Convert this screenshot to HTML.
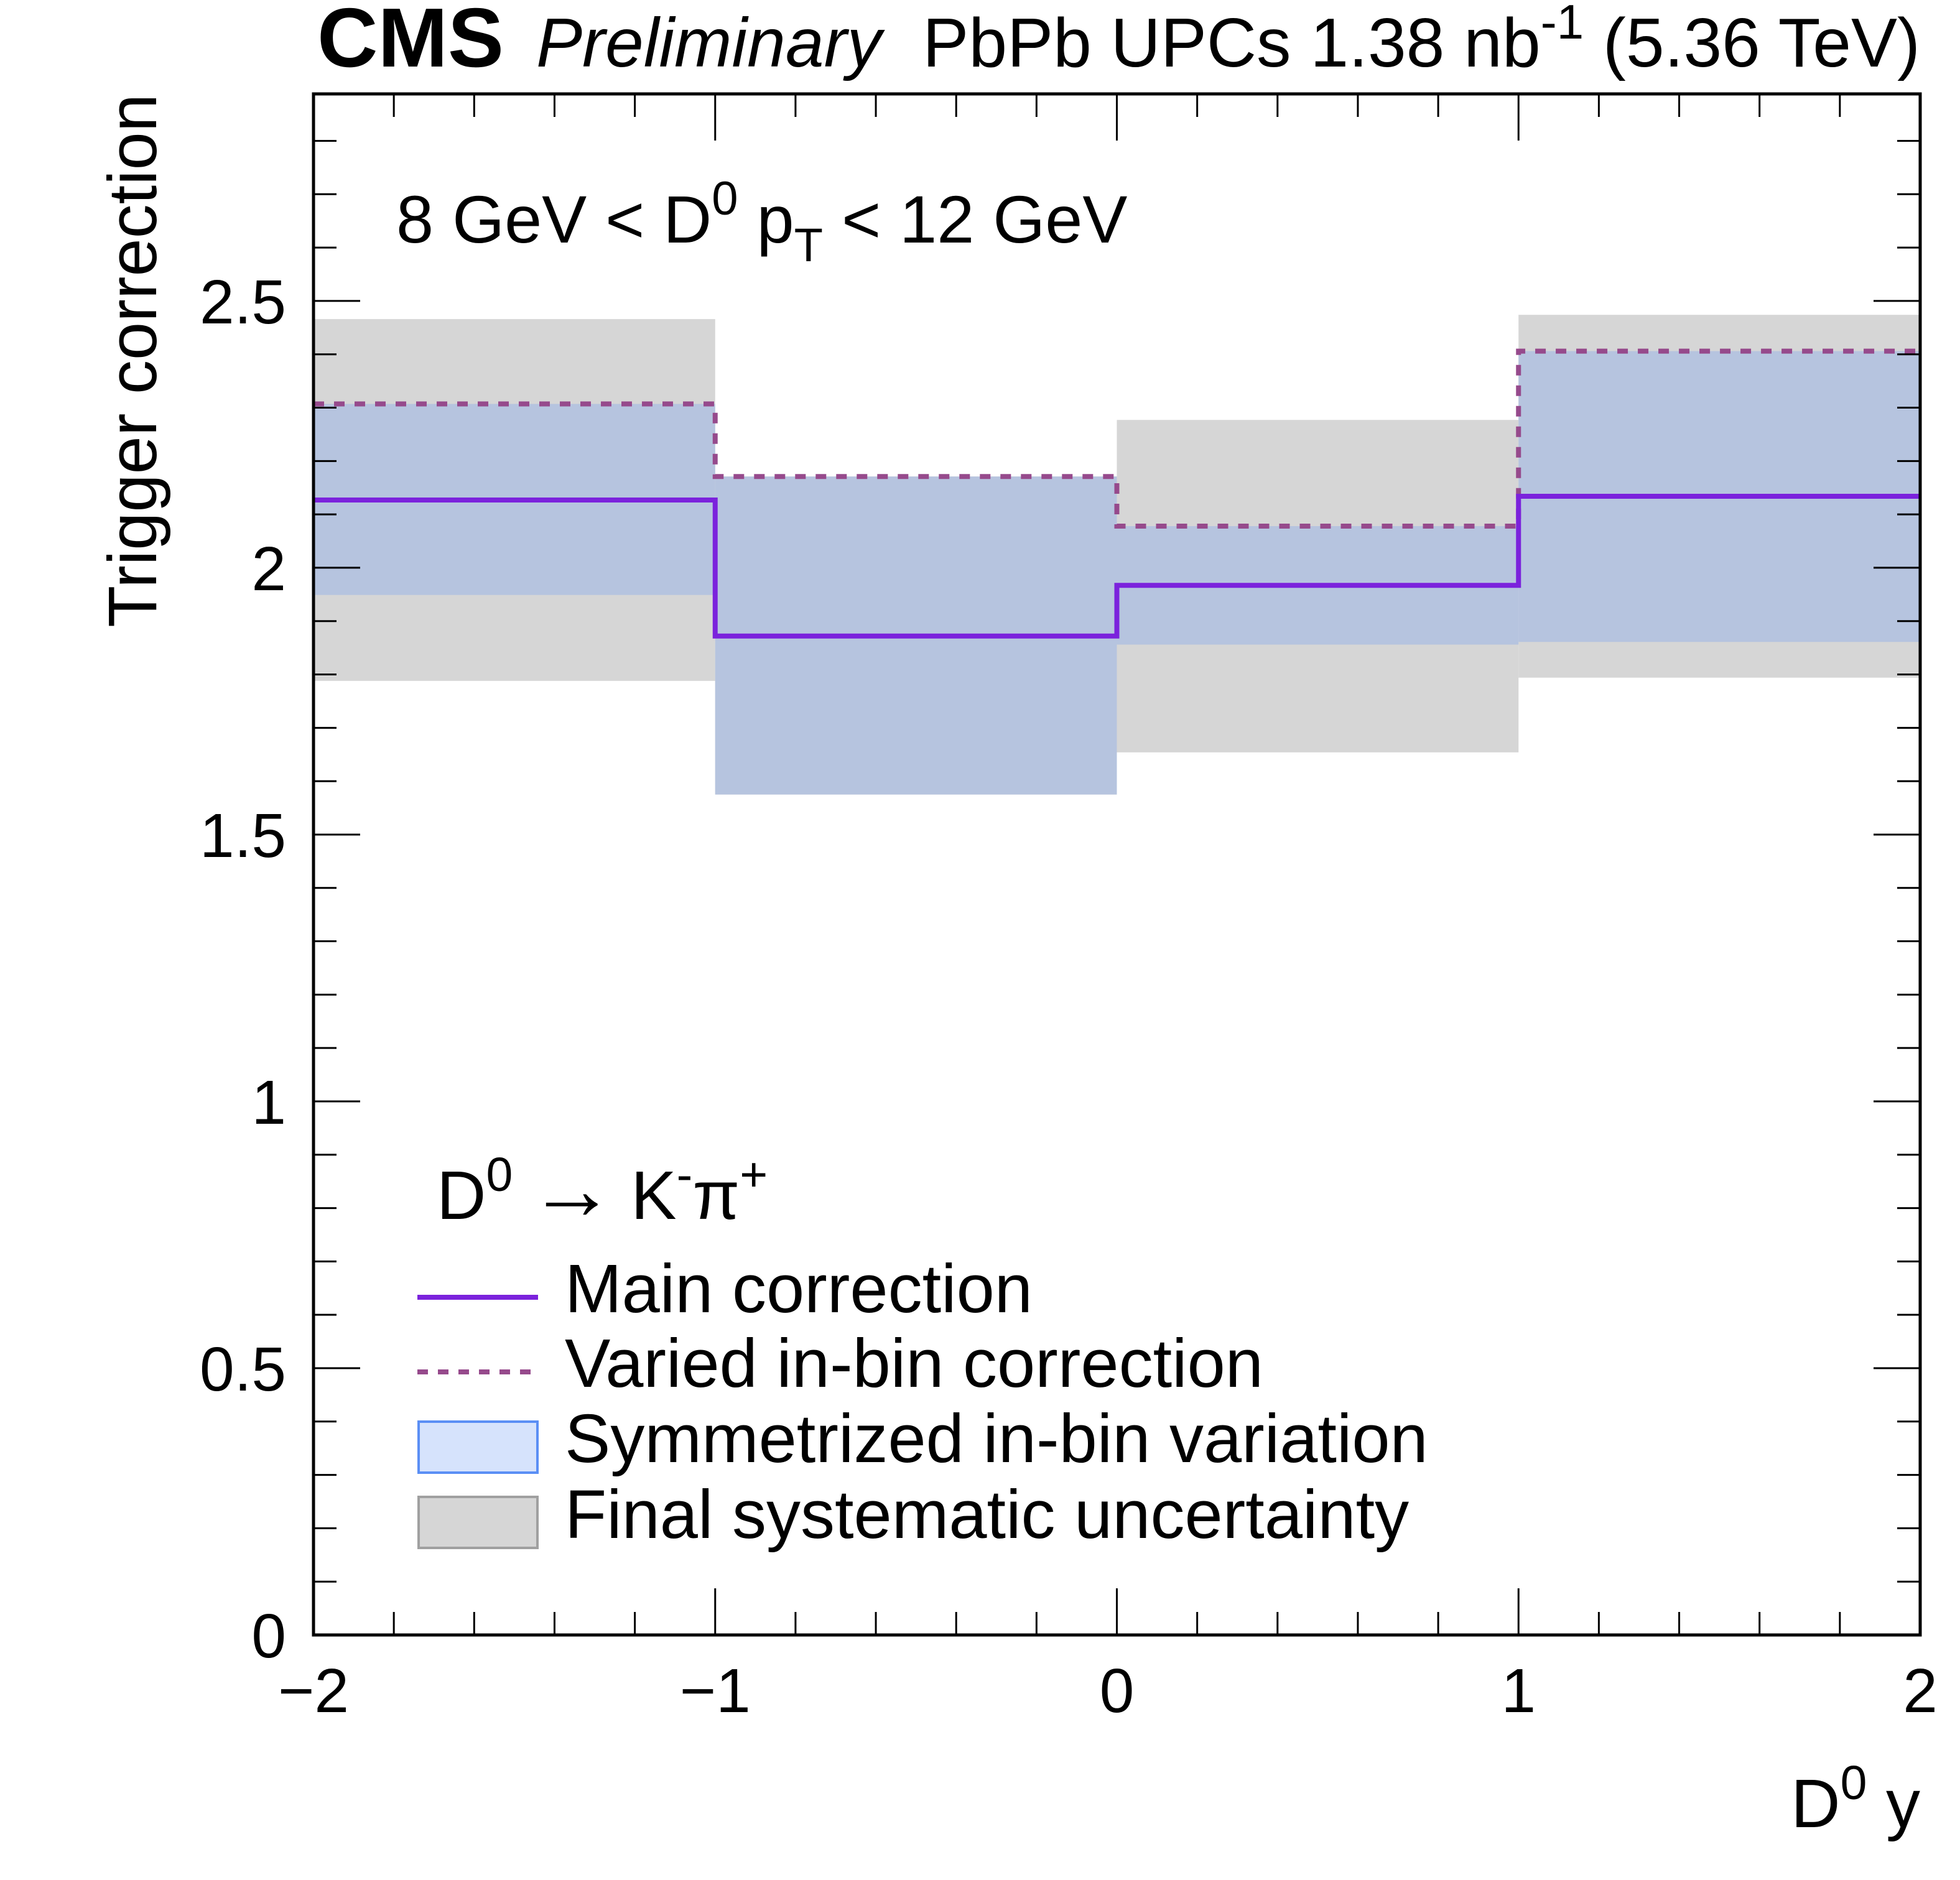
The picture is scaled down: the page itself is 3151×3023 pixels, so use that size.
<!DOCTYPE html>
<html><head><meta charset="utf-8"><style>
html,body{margin:0;padding:0;background:#fff;}
svg{display:block;font-family:"Liberation Sans",Arial,sans-serif;}
</style></head><body>
<svg id="chart" width="3151" height="3023" viewBox="0 0 3151 3023" xmlns="http://www.w3.org/2000/svg">
<g id="bands"></g>
<g id="lines"></g>
<g id="axes"></g>
<rect x="504" y="151" width="2583" height="2478" fill="none" stroke="#000" stroke-width="5"/>
<text x="510" y="107" font-size="135" font-weight="bold">CMS</text>
<text x="862" y="107" font-size="111" font-style="italic">Preliminary</text>
<text x="3087" y="107" font-size="111" text-anchor="end">PbPb UPCs 1.38 nb<tspan dy="-45" font-size="78">-1</tspan><tspan dy="45"> (5.36 TeV)</tspan></text>
<text x="637" y="390" font-size="108">8 GeV &lt; D<tspan dy="-45" font-size="76">0</tspan><tspan dy="45"> p</tspan><tspan dy="30" font-size="76">T</tspan><tspan dy="-30"> &lt; 12 GeV</tspan></text>
<text transform="translate(251,151) rotate(-90)" font-size="110" text-anchor="end">Trigger correction</text>
<text x="3087" y="2938" font-size="110" text-anchor="end">D<tspan dy="-45" font-size="77">0</tspan><tspan dy="45"> y</tspan></text>
<g>
<text x="702" y="1960" font-size="110">D<tspan dy="-45" font-size="77">0</tspan><tspan dy="45" dx="25" font-size="140">→</tspan><tspan dx="25">K</tspan><tspan dy="-45" font-size="77">-</tspan><tspan dy="45">π</tspan><tspan dy="-45" font-size="77">+</tspan></text>
<line x1="671" y1="2086" x2="865" y2="2086" stroke="#7b22dc" stroke-width="8"/>
<text x="908" y="2110" font-size="110">Main correction</text>
<line x1="671" y1="2206" x2="865" y2="2206" stroke="#964a8c" stroke-width="8" stroke-dasharray="17,16"/>
<text x="908" y="2230" font-size="110">Varied in-bin correction</text>
<rect x="673" y="2286" width="191" height="82" fill="#d6e3fc" stroke="#5b8ff5" stroke-width="4"/>
<text x="908" y="2351" font-size="110">Symmetrized in-bin variation</text>
<rect x="673" y="2407" width="191" height="82" fill="#d6d6d6" stroke="#a0a0a0" stroke-width="4"/>
<text x="908" y="2473" font-size="110">Final systematic uncertainty</text>
</g>
</svg>
<script>
const binEdges = [-2, -1, 0, 1, 2];
const mainValues = [2.127, 1.872, 1.967, 2.134];
const variedValues = [2.307, 2.171, 2.078, 2.406];
const symLow = [1.949, 1.575, 1.856, 1.861];
const symHigh = [2.307, 2.171, 2.078, 2.406];
const sysLow = [1.788, 1.575, 1.654, 1.794];
const sysHigh = [2.466, 2.171, 2.277, 2.474];
const yTickLabels = ["0", "0.5", "1", "1.5", "2", "2.5"];
const yTickValues = [0, 0.5, 1, 1.5, 2, 2.5];
const xTickLabels = ["\u22122", "\u22121", "0", "1", "2"];
const xTickValues = [-2, -1, 0, 1, 2];

const X0 = 504, X1 = 3087, Y0 = 2629, Y1 = 151;
const xMin = -2, xMax = 2, yMin = 0, yMax = 2.888;
const sx = v => X0 + (v - xMin) / (xMax - xMin) * (X1 - X0);
const sy = v => Y0 - (v - yMin) / (yMax - yMin) * (Y0 - Y1);
const NS = "http://www.w3.org/2000/svg";
function mk(tag, attrs, parent) {
  const e = document.createElementNS(NS, tag);
  for (const k in attrs) e.setAttribute(k, attrs[k]);
  parent.appendChild(e);
  return e;
}
const bands = document.getElementById('bands');
const lines = document.getElementById('lines');
const axes = document.getElementById('axes');

for (let i = 0; i < mainValues.length; i++) {
  const xa = sx(binEdges[i]), xb = sx(binEdges[i + 1]);
  const g = mk('rect', {x: xa, y: sy(sysHigh[i]), width: xb - xa, height: sy(sysLow[i]) - sy(sysHigh[i]), fill: '#d6d6d6'}, bands);
  
  
}
for (let i = 0; i < mainValues.length; i++) {
  const xa = sx(binEdges[i]), xb = sx(binEdges[i + 1]);
  const b = mk('rect', {x: xa, y: sy(symHigh[i]), width: xb - xa, height: sy(symLow[i]) - sy(symHigh[i]), fill: '#b6c4df'}, bands);
  
  
}
function stepPath(vals) {
  let d = '';
  for (let i = 0; i < vals.length; i++) {
    const xa = sx(binEdges[i]), xb = sx(binEdges[i + 1]), y = sy(vals[i]);
    d += (i === 0 ? 'M' : 'L') + xa + ',' + y + ' L' + xb + ',' + y + ' ';
  }
  return d;
}
const vp = mk('path', {d: stepPath(variedValues), fill: 'none', stroke: '#964a8c', 'stroke-width': 8, 'stroke-dasharray': '17,16'}, lines);


const mp = mk('path', {d: stepPath(mainValues), fill: 'none', stroke: '#7b22dc', 'stroke-width': 8}, lines);



for (let k = 0; k <= 28; k++) {
  const v = k * 0.1, y = sy(v), major = (k % 5 === 0), L = major ? 75 : 37;
  const t1 = mk('line', {x1: X0, y1: y, x2: X0 + L, y2: y, stroke: '#000', 'stroke-width': 3}, axes);
  
  
  const t2 = mk('line', {x1: X1, y1: y, x2: X1 - L, y2: y, stroke: '#000', 'stroke-width': 3}, axes);
  
  
}
yTickValues.forEach((v, i) => {
  const t = mk('text', {x: 460, y: sy(v) + 36, 'font-size': 100, 'text-anchor': 'end'}, axes);
  t.textContent = yTickLabels[i];
  
  
});
for (let k = 0; k <= 20; k++) {
  const v = -2 + k * 0.2, x = sx(v), major = (k % 5 === 0), L = major ? 75 : 37;
  const t1 = mk('line', {x1: x, y1: Y0, x2: x, y2: Y0 - L, stroke: '#000', 'stroke-width': 3}, axes);
  
  
  const t2 = mk('line', {x1: x, y1: Y1, x2: x, y2: Y1 + L, stroke: '#000', 'stroke-width': 3}, axes);
  
  
}
xTickValues.forEach((v, i) => {
  const t = mk('text', {x: sx(v), y: 2753, 'font-size': 100, 'text-anchor': 'middle'}, axes);
  t.textContent = xTickLabels[i];
  
  
});
</script>
</body></html>
